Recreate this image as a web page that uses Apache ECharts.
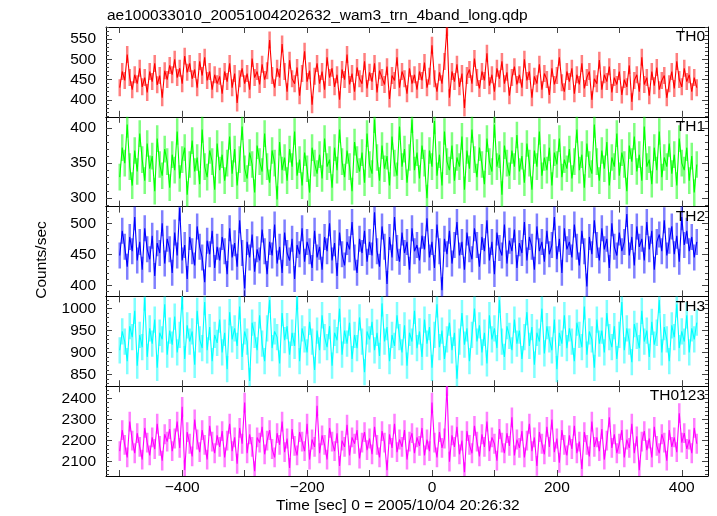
<!DOCTYPE html>
<html><head><meta charset="utf-8">
<script src="https://cdn.jsdelivr.net/npm/echarts@6/dist/echarts.min.js"></script>
<style>html,body{margin:0;padding:0;background:#fff}#c{width:717px;height:516px}</style>
</head><body><div id="c"></div>
<script>
// time bins (s), start and width
const tStart = -500, tStep = 4;

const th0 = [
430,470,448,512,455,425,462,440,478,432,455,418,470,445,490,437,460,405,472,450,
485,462,500,455,478,440,508,468,490,452,475,430,495,460,505,448,470,425,462,440,
458,415,470,445,490,430,465,392,452,478,440,465,425,502,455,470,438,488,450,472,
548,460,430,478,455,538,470,420,498,452,440,480,410,465,520,445,472,388,458,490,
440,470,425,505,455,478,432,462,400,475,450,512,438,465,420,480,452,440,495,428,
468,445,490,418,472,455,438,482,402,460,448,505,430,470,452,415,478,440,462,425,
470,448,492,430,458,535,452,420,468,440,495,578,405,470,445,488,432,465,380,460,
475,440,502,455,428,470,448,515,435,462,420,478,452,495,440,468,410,455,482,438,
462,430,500,448,470,405,458,440,488,425,465,450,412,478,438,460,505,442,420,470,
445,478,415,462,438,490,428,455,470,400,452,440,498,425,462,445,482,418,455,438,
470,412,450,432,485,395,448,462,420,505,438,455,410,470,435,480,425,448,460,405,
440,470,428,495,450,432,478,445,462,420,455,430];

const th1 = [
330,372,350,405,345,318,368,338,392,355,325,378,342,360,310,385,348,332,370,352,
315,362,340,395,328,355,372,305,348,382,338,358,320,398,345,330,368,352,312,378,
340,362,325,350,388,335,370,318,355,402,342,328,365,348,308,375,352,338,392,345,
322,368,350,298,380,340,358,325,370,345,395,332,355,318,365,342,308,372,350,335,
362,328,385,345,355,315,372,340,398,352,330,368,345,310,380,355,338,365,322,392,
348,335,412,358,325,375,342,360,318,388,350,332,402,345,370,322,358,412,340,365,
328,375,350,300,368,345,410,332,362,318,395,352,340,375,325,358,345,388,312,368,
342,398,355,330,372,348,320,385,352,338,405,345,362,305,375,350,332,368,345,390,
338,360,322,378,350,312,368,345,395,332,358,340,372,318,365,348,385,330,355,342,
370,328,352,398,340,362,315,378,348,335,405,352,325,368,342,380,318,358,345,392,
332,365,348,310,375,352,388,338,362,325,402,345,355,320,372,340,395,330,358,345,
378,335,362,318,385,350,340,372,325,360,308,348];

const th2 = [
448,488,462,430,478,455,510,440,470,425,492,458,442,480,415,468,452,500,435,475,
458,420,485,448,525,440,465,410,478,455,432,495,462,445,405,472,450,488,428,462,
440,478,455,418,492,445,468,430,505,452,395,470,445,482,422,458,440,490,455,418,
470,448,498,435,462,420,485,452,440,475,410,465,450,492,438,470,455,428,488,445,
462,425,478,455,500,440,468,415,485,450,432,470,458,502,445,420,475,452,488,438,
470,448,518,455,430,495,462,402,478,445,510,460,438,485,452,470,425,492,455,465,
440,480,458,508,445,470,428,498,455,392,475,450,488,435,465,502,448,470,425,485,
458,442,492,465,430,478,455,505,440,470,418,485,460,448,498,435,472,455,490,428,
468,452,502,440,478,462,425,495,455,470,438,488,450,465,510,442,475,420,492,458,
470,445,498,462,432,488,455,398,478,450,505,465,440,492,458,475,428,500,462,448,
485,455,470,515,448,478,432,495,462,475,440,502,458,488,425,470,482,455,505,448,
472,495,450,480,438,510,465,488,455,478,445,470];

const th3 = [
905,948,925,880,960,935,995,870,940,912,1025,890,955,920,975,865,945,930,1010,895,
950,918,982,900,940,1028,885,962,925,948,872,995,930,910,1015,905,958,880,940,922,
975,900,945,862,992,930,955,915,1005,890,948,925,835,968,940,905,985,920,880,955,
1020,910,948,935,875,990,928,960,895,945,915,1028,880,955,930,900,970,925,860,950,
905,985,935,912,960,870,945,928,1000,895,950,920,968,885,940,910,980,925,855,948,
930,970,905,945,892,1012,925,958,880,940,915,985,935,900,962,870,945,925,995,910,
948,890,975,920,958,865,940,1010,912,950,885,930,968,905,945,840,925,990,918,955,
880,940,1000,925,962,900,945,875,985,930,955,910,1020,925,890,960,938,905,975,920,
950,885,935,992,915,958,872,945,925,1000,898,960,930,905,975,862,945,920,985,910,
955,925,880,968,940,912,1005,895,948,930,865,975,920,950,900,990,935,912,960,885,
940,1015,905,955,925,878,965,938,910,995,925,950,890,970,918,945,1020,900,958,930,
880,962,935,1010,910,948,925,985,900,955,930,968];

const th0123 = [
2150,2250,2180,2120,2290,2200,2140,2235,2170,2110,2260,2190,2130,2215,2160,2280,2175,2105,2230,2195,
2255,2150,2210,2290,2165,2360,2060,2240,2185,2125,2300,2205,2145,2250,2180,2110,2270,2195,2140,2225,
2170,2245,2120,2200,2280,2150,2215,2090,2260,2185,2380,2140,2230,2170,2055,2215,2190,2265,2135,2200,
2250,2160,2120,2235,2180,2290,2145,2210,2070,2255,2175,2130,2240,2195,2150,2280,2110,2205,2170,2365,
2140,2225,2180,2110,2260,2195,2150,2235,2080,2200,2170,2275,2130,2215,2185,2250,2115,2190,2240,2155,
2210,2135,2265,2180,2120,2245,2190,2060,2230,2165,2280,2145,2205,2170,2250,2110,2195,2235,2140,2215,
2175,2260,2130,2205,2150,2380,2190,2120,2240,2165,2210,2458,2100,2225,2170,2265,2135,2200,2050,2245,
2180,2140,2270,2195,2125,2230,2170,2290,2150,2215,2185,2105,2255,2190,2140,2235,2175,2310,2130,2205,
2165,2245,2120,2200,2280,2150,2215,2080,2240,2185,2135,2265,2170,2300,2145,2210,2095,2250,2180,2130,
2225,2160,2270,2140,2195,2065,2240,2180,2125,2290,2170,2215,2150,2255,2110,2200,2310,2165,2230,2140,
2185,2250,2120,2205,2165,2280,2140,2220,2060,2195,2245,2155,2210,2120,2265,2175,2140,2230,2190,2105,
2250,2170,2215,2145,2330,2190,2235,2160,2205,2140,2260,2185];

const panelNames = ['TH0','TH1','TH2','TH3','TH0123'];
const errs = [21, 19, 21, 30, 47];
const yMin = [358, 288, 382, 823, 2032];
const yMax = [580, 416, 527, 1028, 2458];
const yMajorTicks = [[400,450,500,550],[300,350,400],[400,450,500],[850,900,950,1000],[2100,2200,2300,2400]];
const yMinorStep = [10,10,10,10,20];
const xMajorTicks = [-500,-400,-300,-200,-100,0,100,200,300,400];
const xLabels = [-400,-200,0,200,400];
const xMin = -522, xMax = 442;
const titleText = 'ae100033010_20051004202632_wam3_trn_4band_long.qdp';
const xTitle = 'Time [sec] 0 = 2005/10/04 20:26:32';
const yTitle = 'Counts/sec';

const seriesVals = [th0, th1, th2, th3, th0123];
const colors = ['#ff0000','#00ff00','#0000ff','#00ffff','#ff00ff'];
const errColors = ['rgba(255,0,0,0.5)','rgba(0,255,0,0.5)','rgba(0,0,255,0.5)','rgba(0,255,255,0.5)','rgba(255,0,255,0.5)'];

const FONT = "'Liberation Sans', Arial, Helvetica, sans-serif";
const FS = 15.5;
const L = 106, R = 9, T = 27, H = 89.8;
const tickStyle = {color:'#444', width:1};
const lineStyle = {color:'#000', width:1};

const grids = [], xAxes = [], yAxes = [], series = [], titles = [];
titles.push({text:titleText, left:107, top:8, padding:0, textStyle:{fontSize:FS, fontWeight:'normal', color:'#000', fontFamily:FONT}});
titles.push({text:xTitle, left:276, top:498, padding:0, textStyle:{fontSize:FS, fontWeight:'normal', color:'#000', fontFamily:FONT}});

const fmt = v => v < 0 ? '\u2212' + Math.abs(v) : String(v);

for (let k = 0; k < 5; k++) {
  grids.push({left:L, right:R, top:T + k*H, height:H});
  ['bottom','top'].forEach((pos, j) => {
    xAxes.push({type:'value', gridIndex:k, min:xMin, max:xMax, position:pos,
      axisLine:{show:true, onZero:false, lineStyle},
      axisTick:{show:true, inside:true, length:6, customValues:xMajorTicks, lineStyle:tickStyle},
      axisLabel:{show: (k === 4 && j === 0), customValues:xLabels, formatter:fmt, margin:4, fontSize:FS, color:'#000', fontFamily:FONT},
      splitLine:{show:false}});
  });
  const minor = [];
  for (let v = Math.ceil(yMin[k]/yMinorStep[k])*yMinorStep[k]; v <= yMax[k]; v += yMinorStep[k]) minor.push(v);
  ['left','right'].forEach(pos => {
    yAxes.push({type:'value', gridIndex:k, min:yMin[k], max:yMax[k], position:pos,
      axisLine:{show:true, onZero:false, lineStyle},
      axisTick:{show:true, inside:true, length:6, customValues:yMajorTicks[k], lineStyle:tickStyle},
      axisLabel:{show: pos === 'left', customValues:yMajorTicks[k], formatter:fmt, margin:10, fontSize:FS, color:'#000', fontFamily:FONT},
      splitLine:{show:false}});
    yAxes.push({type:'value', gridIndex:k, min:yMin[k], max:yMax[k], position:pos,
      axisLine:{show:false, onZero:false},
      axisTick:{show:true, inside:true, length:3, customValues:minor, lineStyle:tickStyle},
      axisLabel:{show:false},
      splitLine:{show:false}});
  });
  const vals = seriesVals[k];
  const pts = vals.map((v, i) => [tStart + i*tStep, v]);
  const errPts = vals.map((v, i) => [tStart + i*tStep, v, errs[k]]);
  const ec = errColors[k];
  series.push({type:'custom', xAxisIndex:2*k, yAxisIndex:4*k, data:errPts, clip:true, silent:true, animation:false, z:2,
    renderItem:(params, api) => {
      const x = api.value(0), y = api.value(1), e = api.value(2);
      const p1 = api.coord([x, y - e]), p2 = api.coord([x, y + e]);
      return {type:'line', shape:{x1:p1[0], y1:p1[1], x2:p2[0], y2:p2[1]}, style:{stroke:ec, lineWidth:2.5}};
    }});
  series.push({type:'line', xAxisIndex:2*k, yAxisIndex:4*k, data:pts, symbol:'none', showSymbol:false, clip:true,
    lineStyle:{color:colors[k], width:1.1}, itemStyle:{color:colors[k]}, animation:false, z:3, silent:true});
  titles.push({text:panelNames[k], right:12, top:T + k*H + 2, padding:0, textStyle:{fontSize:FS, fontWeight:'normal', color:'#000', fontFamily:FONT}});
}

const chart = echarts.init(document.getElementById('c'), null, {renderer:'canvas'});
chart.setOption({
  animation:false,
  backgroundColor:'#fff',
  textStyle:{fontFamily:FONT},
  title:titles,
  grid:grids,
  xAxis:xAxes,
  yAxis:yAxes,
  series:series,
  graphic:[{type:'text', x:41.5, y:260, rotation:Math.PI/2,
    style:{text:yTitle, fontSize:FS, fontFamily:FONT, fill:'#000', align:'center', verticalAlign:'middle'}}]
});
</script>
</body></html>
